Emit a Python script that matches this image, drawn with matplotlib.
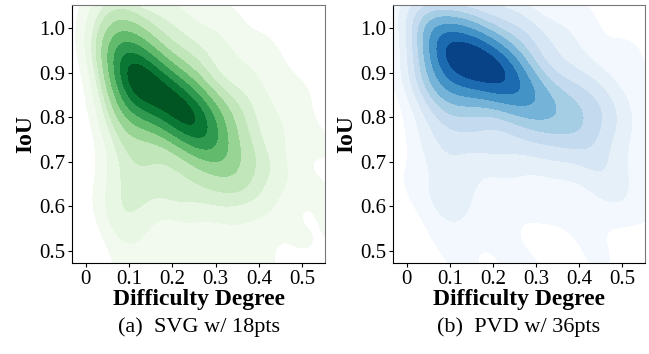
import numpy as np
import matplotlib
matplotlib.use("Agg")
import matplotlib.pyplot as plt
import seaborn as sns

# weighted sample points (difficulty, IoU, weight)
svg_diff = [0.09, 0.12, 0.15, 0.18, 0.21, 0.24, 0.27,
            0.08, 0.11, 0.15, 0.19, 0.23, 0.27, 0.31,
            0.09, 0.12, 0.16, 0.20, 0.24, 0.28, 0.32,
            0.08, 0.15, 0.25, 0.35, 0.38, 0.34, 0.26, 0.18, 0.11, 0.08,
            0.07, 0.10, 0.20, 0.30, 0.38, 0.44, 0.44, 0.40, 0.32, 0.22, 0.13, 0.09, 0.08, 0.09,
            0.04, 0.18, 0.32, 0.42, 0.50, 0.55, 0.55, 0.50, 0.40, 0.30, 0.20, 0.10, 0.07,
            0.60, 0.25, 0.10, 0.40, 0.03]
svg_iou = [0.895, 0.88, 0.865, 0.845, 0.825, 0.80, 0.78,
           0.94, 0.935, 0.92, 0.895, 0.865, 0.835, 0.80,
           0.84, 0.815, 0.79, 0.77, 0.75, 0.73, 0.72,
           1.00, 0.98, 0.93, 0.82, 0.72, 0.66, 0.65, 0.67, 0.72, 0.78,
           0.96, 1.04, 1.02, 0.96, 0.88, 0.78, 0.68, 0.62, 0.60, 0.60, 0.62, 0.66, 0.86, 0.58,
           1.06, 1.08, 1.04, 0.96, 0.86, 0.74, 0.62, 0.52, 0.50, 0.48, 0.48, 0.50, 0.58,
           0.52, 0.40, 0.42, 0.42, 0.95]
svg_w = [3, 3, 3, 3, 3, 3, 3,
         2.5, 2.5, 2.5, 2.5, 2.5, 2.5, 2.5,
         2.5, 2.5, 2.5, 2.5, 2.5, 2.5, 2.5,
         2, 2, 2, 2, 2, 2, 2, 2, 2, 2,
         1.4, 1.4, 1.4, 1.4, 1.4, 1.4, 1.4, 1.4, 1.4, 1.4, 1.4, 1.4, 1.4, 1.4,
         0.7, 0.7, 0.7, 0.7, 0.7, 0.7, 0.7, 0.7, 0.7, 0.7, 0.7, 0.7, 0.7,
         0.7, 0.7, 0.7, 0.7, 0.7]

pvd_diff = [0.09, 0.12, 0.15, 0.18, 0.21, 0.24,
            0.08, 0.11, 0.15, 0.20, 0.25,
            0.09, 0.13, 0.18, 0.23, 0.28, 0.32,
            0.07, 0.17, 0.28, 0.36, 0.42, 0.36, 0.26, 0.16, 0.09, 0.06, 0.30, 0.40,
            0.05, 0.12, 0.25, 0.36, 0.44, 0.48, 0.44, 0.34, 0.22, 0.12, 0.07, 0.05, 0.10, 0.46,
            0.03, 0.20, 0.40, 0.52, 0.56, 0.55, 0.50, 0.40, 0.30, 0.20, 0.10, 0.03,
            0.60, 0.25, 0.45, 0.15, 0.35]
pvd_iou = [0.93, 0.925, 0.92, 0.91, 0.90, 0.89,
           0.965, 0.975, 0.965, 0.95, 0.925,
           0.87, 0.86, 0.855, 0.85, 0.85, 0.84,
           1.00, 1.00, 0.97, 0.87, 0.82, 0.77, 0.76, 0.77, 0.80, 0.90, 0.80, 0.78,
           1.00, 1.04, 1.03, 0.97, 0.88, 0.80, 0.72, 0.70, 0.70, 0.68, 0.74, 0.86, 0.60, 0.66,
           1.06, 1.08, 1.04, 0.95, 0.84, 0.70, 0.60, 0.58, 0.60, 0.58, 0.52, 0.65,
           0.60, 0.48, 0.48, 0.42, 0.42]
pvd_w = [3, 3, 3, 3, 3, 3,
         2.5, 2.5, 2.5, 2.5, 2.5,
         2.5, 2.5, 2.5, 2.5, 2.5, 2.5,
         2, 2, 2, 2, 2, 2, 2, 2, 2, 2, 2, 2,
         1.4, 1.4, 1.4, 1.4, 1.4, 1.4, 1.4, 1.4, 1.4, 1.4, 1.4, 1.4, 1.4, 1.4,
         0.7, 0.7, 0.7, 0.7, 0.7, 0.7, 0.7, 0.7, 0.7, 0.7, 0.7, 0.7,
         0.7, 0.7, 0.7, 0.7, 0.7]

x_ticks = [0, 0.1, 0.2, 0.3, 0.4, 0.5]
x_labels = ["0", "0.1", "0.2", "0.3", "0.4", "0.5"]
y_ticks = [0.5, 0.6, 0.7, 0.8, 0.9, 1.0]

plt.rcParams["font.family"] = ["Liberation Serif", "DejaVu Serif"]

fig = plt.figure(figsize=(6.49, 3.54), dpi=100)
ax1 = fig.add_axes([0.111, 0.257, 0.390, 0.729])
ax2 = fig.add_axes([0.6055, 0.257, 0.388, 0.729])

panels = [(ax1, svg_diff, svg_iou, svg_w, "Greens", "(a)  SVG w/ 18pts"),
          (ax2, pvd_diff, pvd_iou, pvd_w, "Blues", "(b)  PVD w/ 36pts")]

for ax, xs, ys, ws, cmap, caption in panels:
    sns.kdeplot(x=xs, y=ys, weights=ws, fill=True, cmap=cmap, levels=10,
                thresh=0.05, bw_adjust=0.7, ax=ax)
    ax.set_xlim(-0.032, 0.553)
    ax.set_ylim(0.473, 1.052)
    ax.set_xticks(x_ticks)
    ax.set_xticklabels(x_labels)
    ax.set_yticks(y_ticks)
    ax.tick_params(labelsize=15, length=3, pad=2)
    ax.set_xlabel("Difficulty Degree", fontsize=17, fontweight="bold", labelpad=0)
    ax.set_ylabel("IoU", fontsize=17, fontweight="bold", labelpad=2)
    for side in ["top", "right"]:
        ax.spines[side].set_color("#777777")
    ax.text(0.5, -0.25, caption, transform=ax.transAxes, ha="center",
            va="center", fontsize=16)

fig.savefig("out.png", dpi=100)
